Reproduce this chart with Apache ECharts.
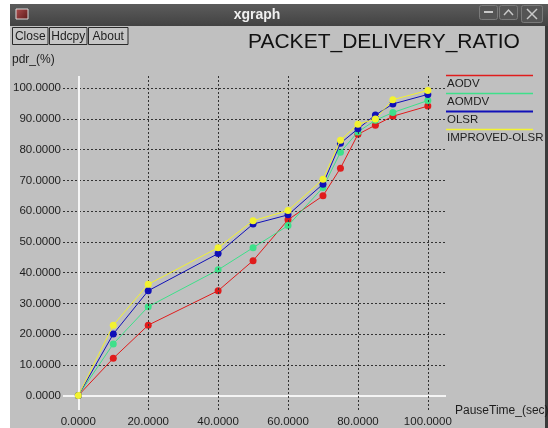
<!DOCTYPE html>
<html>
<head>
<meta charset="utf-8">
<script src="https://cdn.jsdelivr.net/npm/echarts@6/dist/echarts.min.js"></script>
<style>
  html, body { margin: 0; padding: 0; background: #ffffff; }
  #main { position: absolute; left: 0; top: 0; width: 548px; height: 428px; }
</style>
</head>
<body>
<div id="main"></div>
<script>
var pauseTimes = [0, 10, 20, 40, 50, 60, 70, 75, 80, 85, 90, 100];
var aodv = [0, 12.1, 22.9, 34.1, 43.9, 57.2, 65.0, 74.0, 85.0, 88.0, 90.9, 94.2];
var aomdv = [0, 16.8, 28.9, 40.9, 48.1, 55.3, 67.7, 79.2, 85.8, 89.6, 92.1, 96.0];
var olsr = [0, 20.0, 34.1, 46.2, 55.8, 58.8, 68.8, 82.1, 86.8, 91.3, 94.9, 98.0];
var improvedOlsr = [0, 22.9, 36.2, 48.1, 56.9, 60.2, 70.4, 83.1, 88.3, 90.0, 96.3, 99.3];

var seriesNames = ['AODV', 'AOMDV', 'OLSR', 'IMPROVED-OLSR'];
var seriesValues = [aodv, aomdv, olsr, improvedOlsr];
var seriesColors = ['#e01c1c', '#3ee08a', '#1010b8', '#f2f230'];

var xTicks = [0, 20, 40, 60, 80, 100];
var yTicks = [0, 10, 20, 30, 40, 50, 60, 70, 80, 90, 100];

var font = '"Liberation Sans", Arial, sans-serif';
var textColor = '#1e1e1e';

function pairs(values) {
  return pauseTimes.map(function (t, i) { return [t, values[i]]; });
}

// grid lines drawn through the axes' scales
var gridLines = [];
yTicks.forEach(function (v) {
  if (v === 0) {
    gridLines.push({ yAxis: v, lineStyle: { color: '#f4f4f4', type: 'solid', width: 2 } });
  } else {
    gridLines.push({ yAxis: v });
  }
});
xTicks.forEach(function (v) {
  if (v === 0) {
    gridLines.push({ xAxis: v, lineStyle: { color: '#f4f4f4', type: 'solid', width: 2 } });
  } else {
    gridLines.push({ xAxis: v });
  }
});

var series = [{
  type: 'line',
  name: 'grid',
  data: [],
  z: 1,
  silent: true,
  markLine: {
    silent: true,
    symbol: ['none', 'none'],
    label: { show: false },
    lineStyle: { color: '#333333', type: [2, 2], width: 1 },
    emphasis: { disabled: true },
    data: gridLines
  }
}];

seriesNames.forEach(function (name, i) {
  series.push({
    type: 'line',
    name: name,
    data: pairs(seriesValues[i]),
    z: 3 + i,
    symbol: 'circle',
    symbolSize: 7,
    showSymbol: true,
    color: seriesColors[i],
    lineStyle: { color: seriesColors[i], width: 1 },
    itemStyle: { color: seriesColors[i] }
  });
});

// window chrome and legend
var graphic = [
  { type: 'rect', shape: { x: 0, y: 0, width: 548, height: 4 }, style: { fill: '#ffffff' } },
  { type: 'rect', shape: { x: 0, y: 0, width: 10, height: 428 }, style: { fill: '#ffffff' } },
  { type: 'rect', shape: { x: 545, y: 26, width: 3, height: 402 }, style: { fill: '#3a3a3a' } },
  {
    type: 'rect', shape: { x: 10, y: 4, width: 538, height: 22 },
    style: {
      fill: new echarts.graphic.LinearGradient(0, 0, 0, 1, [
        { offset: 0, color: '#5c5c5c' }, { offset: 1, color: '#424242' }
      ])
    }
  },
  {
    type: 'rect', shape: { x: 16, y: 9, width: 12, height: 10 },
    style: {
      fill: new echarts.graphic.LinearGradient(0, 0, 1, 1, [
        { offset: 0, color: '#b05050' }, { offset: 1, color: '#5a1818' }
      ]),
      stroke: '#d8d8d8', lineWidth: 1
    }
  },
  {
    type: 'text', x: 257, y: 15,
    style: { text: 'xgraph', fill: '#f0f0f0', font: 'bold 14px ' + font, textAlign: 'center', textVerticalAlign: 'middle' }
  },
  { type: 'rect', shape: { x: 479.5, y: 5.5, width: 18, height: 14, r: 2 }, style: { fill: '#555555', stroke: '#7a7a7a', lineWidth: 1 } },
  { type: 'rect', shape: { x: 499.5, y: 5.5, width: 18, height: 14, r: 2 }, style: { fill: '#555555', stroke: '#7a7a7a', lineWidth: 1 } },
  { type: 'rect', shape: { x: 521.5, y: 5.5, width: 21, height: 17, r: 2 }, style: { fill: '#555555', stroke: '#7a7a7a', lineWidth: 1 } },
  { type: 'line', shape: { x1: 484, y1: 12, x2: 493, y2: 12 }, style: { stroke: '#c8c8c8', lineWidth: 2 } },
  { type: 'polyline', shape: { points: [[504, 15], [508.5, 10], [513, 15]] }, style: { fill: null, stroke: '#c8c8c8', lineWidth: 1.5 } },
  { type: 'line', shape: { x1: 527, y1: 9, x2: 537, y2: 19 }, style: { stroke: '#c8c8c8', lineWidth: 1.5 } },
  { type: 'line', shape: { x1: 537, y1: 9, x2: 527, y2: 19 }, style: { stroke: '#c8c8c8', lineWidth: 1.5 } },
  {
    type: 'text', x: 248, y: 42,
    style: { text: 'PACKET_DELIVERY_RATIO', fill: '#111111', font: '21px ' + font, textVerticalAlign: 'middle' }
  },
  {
    type: 'text', x: 12, y: 60,
    style: { text: 'pdr_(%)', fill: textColor, font: '12px ' + font, textVerticalAlign: 'middle' }
  },
  {
    type: 'text', x: 455, y: 411,
    style: { text: 'PauseTime_(sec)', fill: textColor, font: '12px ' + font, textVerticalAlign: 'middle' }
  }
];

var buttons = [['Close', 12.5, 35.5], ['Hdcpy', 49.5, 37.5], ['About', 88.5, 39.5]];
buttons.forEach(function (b) {
  graphic.push({ type: 'rect', shape: { x: b[1], y: 27.5, width: b[2], height: 17 }, style: { fill: '#c6c6c6', stroke: '#2a2a2a', lineWidth: 1 } });
  graphic.push({
    type: 'text', x: b[1] + b[2] / 2, y: 36.5,
    style: { text: b[0], fill: textColor, font: '12px ' + font, textAlign: 'center', textVerticalAlign: 'middle' }
  });
});

seriesNames.forEach(function (name, i) {
  var ly = 75.5 + i * 18;
  graphic.push({
    type: 'text', x: 447, y: ly + 8.5,
    style: { text: name, fill: textColor, font: '11.5px ' + font, textVerticalAlign: 'middle' }
  });
  graphic.push({
    type: 'line', z: 10,
    shape: { x1: 446, y1: ly, x2: 533, y2: ly },
    style: { stroke: seriesColors[i], lineWidth: i === 2 ? 2 : 1.3 }
  });
});

var option = {
  animation: false,
  backgroundColor: '#c0c0c0',
  grid: { left: 63, right: 102, top: 76, bottom: 18 },
  xAxis: {
    type: 'value',
    min: -4.38,
    max: 105.2,
    axisLine: { show: false },
    axisTick: { show: false },
    splitLine: { show: false },
    axisLabel: {
      customValues: xTicks,
      margin: 6,
      color: textColor,
      fontFamily: font,
      fontSize: 11.5,
      formatter: function (v) { return v.toFixed(4); }
    }
  },
  yAxis: {
    type: 'value',
    min: -4.72,
    max: 104.0,
    axisLine: { show: false },
    axisTick: { show: false },
    splitLine: { show: false },
    axisLabel: {
      customValues: yTicks,
      margin: 2,
      color: textColor,
      fontFamily: font,
      fontSize: 11.5,
      formatter: function (v) { return v.toFixed(4); }
    }
  },
  graphic: graphic,
  series: series
};

var chartDom = document.getElementById('main');
var myChart = echarts.init(chartDom);
option && myChart.setOption(option);
</script>
</body>
</html>
